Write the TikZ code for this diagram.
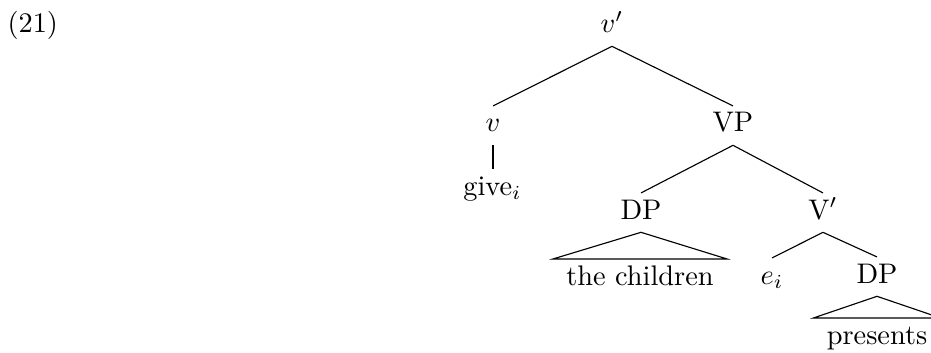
\documentclass[tikz,border=0pt]{standalone}
\usepackage{tikz}
\begin{document}
\begin{tikzpicture}[x=0.353pt,y=-0.353pt]
\tikzset{cat/.style={anchor=base, inner ysep=3pt, inner xsep=4.5pt, text height=6pt, text depth=1.5pt}}
\useasboundingbox (0,0) rectangle (931,352);
\node[anchor=base west, inner sep=0pt] (ex) at (7,33) {(21)};
% tree nodes
\node[cat] (vbar) at (612,33) {$v'$};
\node[cat] (vsm) at (493,132) {$v$};
\node[cat] (vp) at (733,132) {VP};
\node[cat] (give) at (492.5,195) {give$_i$};
\node[cat] (dpa) at (641,219) {DP};
\node[cat] (vbr) at (823,219) {V$'$};
\node[cat] (kids) at (640,285) {the children};
\node[cat] (ei) at (772,284) {$e_i$};
\node[cat] (dpb) at (877,283) {DP};
\node[cat] (pres) at (877,344) {presents};
% branches
\foreach \a/\b in {vbar/vsm,vbar/vp,vp/dpa,vp/vbr,vbr/ei,vbr/dpb} {
    \draw (\a.south) -- (\b.north);
}
\draw (vsm.south) -- (vsm.south |- give.north);
% roofs
\draw (dpa.south) -- (kids.north west) -- (kids.north east) -- cycle;
\draw (dpb.south) -- (pres.north west) -- (pres.north east) -- cycle;
\end{tikzpicture}
\end{document}
